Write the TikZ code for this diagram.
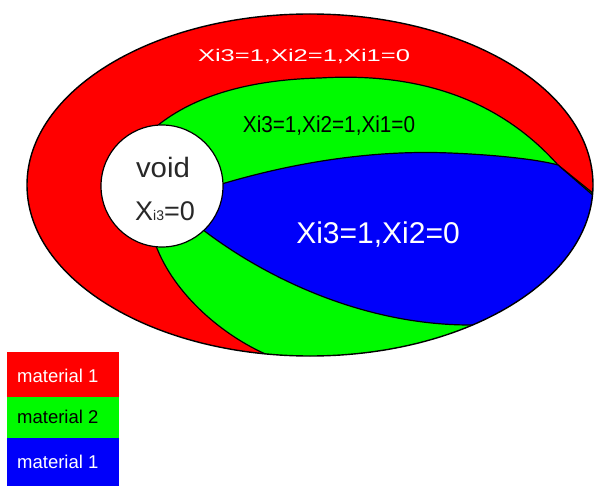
\documentclass[tikz,border=0pt]{standalone}
\usepackage{fontspec}
\setmainfont{Liberation Sans}
\usepackage{graphicx}
\definecolor{mred}{RGB}{255,0,0}
\definecolor{mgreen}{RGB}{0,250,0}
\definecolor{mblue}{RGB}{0,0,250}
\definecolor{vgray}{RGB}{40,40,40}
\begin{document}
\begin{tikzpicture}[x=1pt,y=-1pt,
  region/.style={draw=black, line width=1.2pt, line join=round},
  legendbox/.style={anchor=north west, inner sep=0pt, minimum width=112pt, minimum height=#1},
  legendtext/.style={anchor=base west, inner sep=0pt, font=\fontsize{18.5}{22}\selectfont}]
\useasboundingbox (0,0) rectangle (596,486);
\fill[white] (0,0) rectangle (596,486);
\begin{scope}
\clip (310,185) ellipse [x radius=283pt, y radius=171pt];
\fill[mred] (0,0) rectangle (596,400);
\path[region, fill=mgreen] (150,132) .. controls (185,100) and (240,80) .. (320,78)
  .. controls (420,72) and (500,100) .. (558,165) -- (620,215) -- (640,420) -- (310,420)
  -- (295,366) -- (270,356) .. controls (220,335) and (170,290) .. (154,240) -- cycle;
\path[region, fill=mblue] (215,186) .. controls (300,160) and (380,150) .. (450,153)
  .. controls (500,155) and (540,160) .. (558,165) -- (595,197) -- (640,230) -- (640,325)
  -- (510,325) -- (470,325) .. controls (360,325) and (260,275) .. (198,226) -- cycle;
\end{scope}
\draw[line width=1.4pt] (310,185) ellipse [x radius=283pt, y radius=171pt];
\node[circle, draw=black, line width=1.2pt, fill=white, minimum size=122pt, inner sep=0pt] (void) at (162,186) {};
\node[anchor=base, inner sep=0pt, text=vgray, font=\fontsize{28}{30}\selectfont] (vt) at (163,178) {\scalebox{1.05}[1]{void}};
\node[anchor=base, inner sep=0pt, text=vgray, font=\fontsize{27}{30}\selectfont] (vx) at (165,221) {X{\fontsize{14}{16}\selectfont i3}=0};
\node[anchor=base, inner sep=0pt, text=white, font=\fontsize{17}{20}\selectfont] (t1) at (304,62) {\scalebox{1.5}[1]{Xi3=1,Xi2=1,Xi1=0}};
\node[anchor=base, inner sep=0pt, text=black, font=\fontsize{23}{26}\selectfont] (t2) at (329,133) {\scalebox{0.9}[1]{Xi3=1,Xi2=1,Xi1=0}};
\node[anchor=base, inner sep=0pt, text=white, font=\fontsize{30}{34}\selectfont] (t3) at (378,243) {Xi3=1,Xi2=0};
\node[legendbox=45pt, fill=mred] (l1) at (7,352) {};
\node[legendbox=41pt, fill=mgreen] (l2) at (7,397) {};
\node[legendbox=48pt, fill=mblue] (l3) at (7,438) {};
\node[legendtext, text=white] (lt1) at (17,382) {material 1};
\node[legendtext, text=black] (lt2) at (17,423) {material 2};
\node[legendtext, text=white] (lt3) at (17,468) {material 1};
\end{tikzpicture}
\end{document}
